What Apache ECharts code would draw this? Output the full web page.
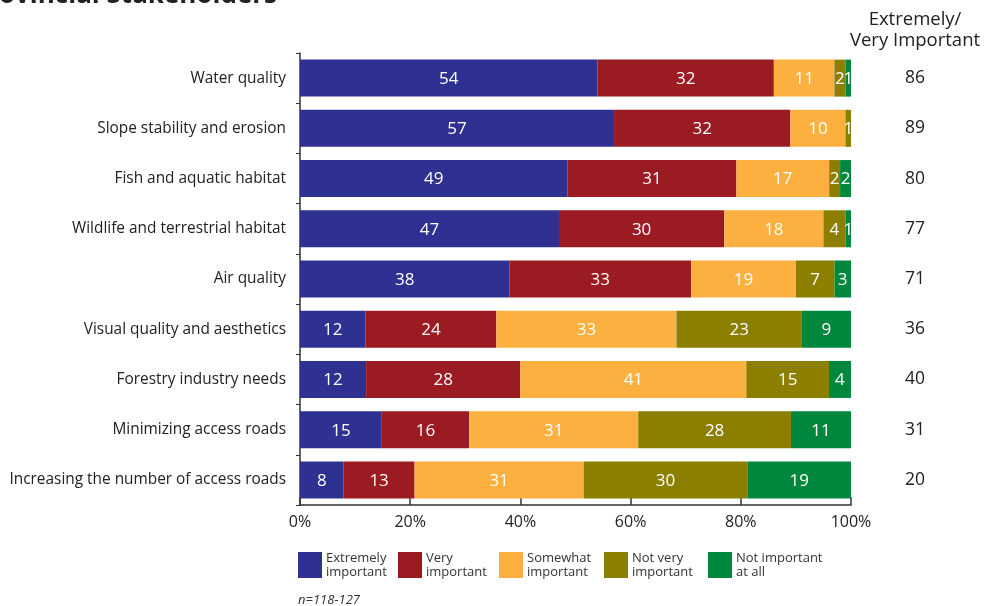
<!DOCTYPE html>
<html>
<head>
<meta charset="utf-8">
<script src="https://cdn.jsdelivr.net/npm/echarts@6/dist/echarts.min.js"></script>
<style>
html,body{margin:0;padding:0;background:#fff;}
#chart{width:985px;height:606px;}
</style>
</head>
<body>
<div id="chart"></div>
<script>
const categories = [
  'Water quality',
  'Slope stability and erosion',
  'Fish and aquatic habitat',
  'Wildlife and terrestrial habitat',
  'Air quality',
  'Visual quality and aesthetics',
  'Forestry industry needs',
  'Minimizing access roads',
  'Increasing the number of access roads'
];
const seriesNames = ['Extremely important', 'Very important', 'Somewhat important', 'Not very important', 'Not important at all'];
const legendLabels = ['Extremely\nimportant', 'Very\nimportant', 'Somewhat\nimportant', 'Not very\nimportant', 'Not important\nat all'];
const extremely = [54, 57, 49, 47, 38, 12, 12, 15, 8];
const very      = [32, 32, 31, 30, 33, 24, 28, 16, 13];
const somewhat  = [11, 10, 17, 18, 19, 33, 41, 31, 31];
const notVery   = [2, 1, 2, 4, 7, 23, 15, 28, 30];
const notAtAll  = [1, 0, 2, 1, 3, 9, 4, 11, 19];
const extVeryTotal = [86, 89, 80, 77, 71, 36, 40, 31, 20];
const xTickValues = [0, 20, 40, 60, 80, 100];
const colors = ['#2E3192', '#9B1B23', '#FBB040', '#8C7F00', '#00873E'];

const raw = [extremely, very, somewhat, notVery, notAtAll];
const rowTotals = categories.map((c, i) => raw.reduce((s, arr) => s + arr[i], 0));

const FONT = 'Open Sans';
const chart = echarts.init(document.getElementById('chart'));

const series = raw.map((arr, k) => ({
  name: seriesNames[k],
  type: 'bar',
  stack: 'total',
  barWidth: 37,
  itemStyle: { color: colors[k] },
  label: {
    show: true,
    position: 'inside',
    color: '#fff',
    fontFamily: FONT,
    fontSize: 17,
    offset: [0, 1],
    formatter: p => (arr[p.dataIndex] ? String(arr[p.dataIndex]) : '')
  },
  data: arr.map((v, i) => v / rowTotals[i] * 100)
}));

const legendLefts = [298, 398, 499, 604, 708];
const legends = seriesNames.map((n, k) => ({
  left: legendLefts[k],
  top: 551,
  padding: 0,
  icon: 'rect',
  itemWidth: 24,
  itemHeight: 26,
  itemGap: 4,
  selectedMode: false,
  data: [n],
  formatter: () => legendLabels[k],
  textStyle: { fontFamily: FONT, fontSize: 13, lineHeight: 14, color: '#333', padding: [0, 0, 0, -1] }
}));

chart.setOption({
  animation: false,
  color: colors,
  textStyle: { fontFamily: FONT },
  grid: { left: 300, right: 134, top: 53, height: 452 },
  legend: legends,
  xAxis: {
    type: 'value',
    min: 0,
    max: 100,
    interval: 20,
    splitLine: { show: false },
    axisLine: { show: true, lineStyle: { color: '#333', width: 1.5 } },
    axisTick: { show: true, inside: true, length: 8, lineStyle: { color: '#333', width: 1.5 } },
    axisLabel: {
      fontFamily: FONT, fontSize: 16, color: '#222', margin: 9,
      formatter: v => (xTickValues.includes(v) ? v + '%' : '')
    }
  },
  yAxis: [{
    type: 'category',
    inverse: true,
    data: categories,
    axisLine: { show: true, lineStyle: { color: '#333', width: 1.5 } },
    axisTick: { show: true, length: 4, lineStyle: { color: '#333', width: 1 } },
    axisLabel: { fontFamily: FONT, fontSize: 15.4, color: '#222', margin: 14, padding: [4, 0, 0, 0] }
  }, {
    type: 'category',
    inverse: true,
    position: 'right',
    data: categories,
    axisLine: { show: false },
    axisTick: { show: false },
    axisLabel: {
      fontFamily: FONT, fontSize: 17.5, color: '#222', margin: 64, align: 'center',
      padding: [6, 0, 0, 0],
      formatter: (v, i) => String(extVeryTotal[i])
    }
  }],
  graphic: [
    {
      type: 'text',
      style: {
        text: 'Provincial Stakeholders',
        x: 277, y: 9,
        align: 'right', verticalAlign: 'bottom',
        textAlign: 'right', textVerticalAlign: 'bottom',
        font: 'bold 26px "Open Sans"',
        fill: '#222'
      }
    },
    {
      type: 'text',
      style: {
        text: 'Extremely/\nVery Important',
        x: 915, y: 9,
        align: 'center', textAlign: 'center',
        font: '18.5px "Open Sans"',
        lineHeight: 21,
        fill: '#222'
      }
    },
    {
      type: 'text',
      style: {
        text: 'n=118-127',
        x: 298, y: 594,
        font: 'italic 13px "Open Sans"',
        fill: '#333'
      }
    }
  ],
  series: series
});
</script>
</body>
</html>
